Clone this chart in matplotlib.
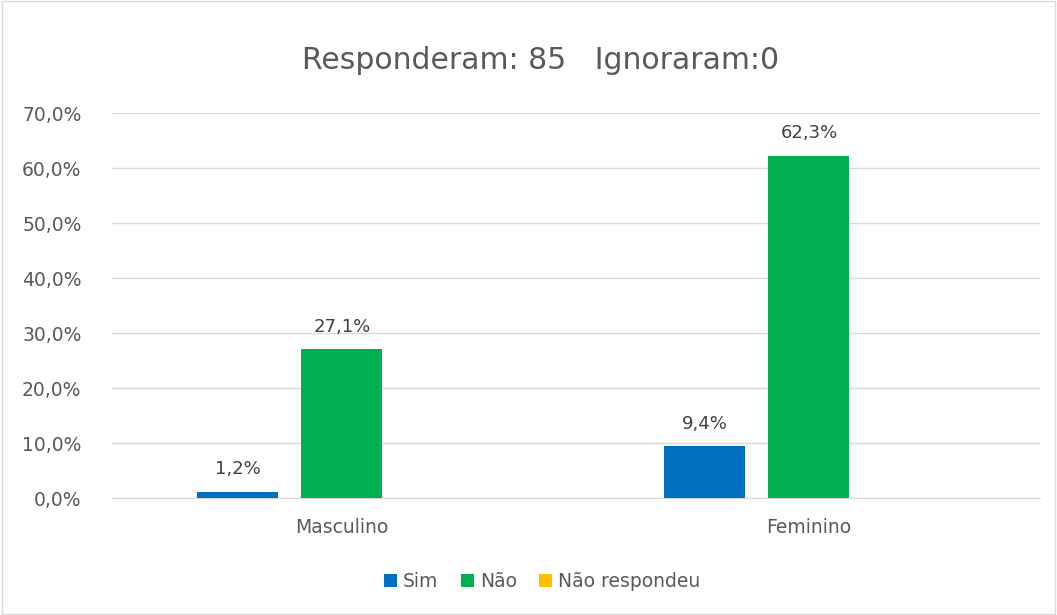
import numpy as np
import matplotlib.pyplot as plt
from matplotlib.patches import Rectangle

# dados do gráfico
categorias = ['Masculino', 'Feminino']
series = ['Sim', 'Não', 'Não respondeu']
sim = [1.2, 9.4]
nao = [27.1, 62.3]
nao_respondeu = [0.0, 0.0]
cores = ['#0070C0', '#00B050', '#FFC000']
titulo = 'Responderam: 85   Ignoraram:0'

texto = '#595959'

fig = plt.figure(figsize=(10.57, 6.15), dpi=100)
fig.patches.append(Rectangle((0.002, 0.002), 0.996, 0.996, transform=fig.transFigure,
                             fill=False, edgecolor='#d9d9d9', linewidth=1))
ax = fig.add_axes([0.106, 0.190, 0.878, 0.626])

x = np.arange(len(categorias))
largura = 0.173
passo = 0.223
valores = [sim, nao, nao_respondeu]
for i, (nome, vals, cor) in enumerate(zip(series, valores, cores)):
    barras = ax.bar(x + (i - 1) * passo, vals, width=largura, color=cor, label=nome, zorder=3)
    for b, v in zip(barras, vals):
        if v > 0:
            ax.text(b.get_x() + b.get_width() / 2, v + 2.4, f'{v:.1f}%'.replace('.', ','),
                    ha='center', va='bottom', fontsize=13, color='#404040')

ax.set_xlim(-0.492, 1.495)
ax.set_ylim(0, 70)
ax.set_yticks(np.arange(0, 71, 10))
ax.set_yticklabels([f'{v:.1f}%'.replace('.', ',') for v in np.arange(0, 71, 10)])
ax.set_xticks(x)
ax.set_xticklabels(categorias)
ax.tick_params(length=0, labelsize=13.5, labelcolor=texto)
ax.tick_params(axis='x', pad=14)
ax.tick_params(axis='y', pad=22)
ax.grid(axis='y', color='#d9d9d9', linewidth=1, zorder=0)
for s in ['top', 'right', 'left']:
    ax.spines[s].set_visible(False)
ax.spines['bottom'].set_color('#d9d9d9')

fig.text(0.511, 0.902, titulo, ha='center', va='center', fontsize=21.5, color=texto)

fig.legend(loc='center', bbox_to_anchor=(0.513, 0.054), ncol=3, frameon=False,
           fontsize=13.5, handlelength=0.7, handleheight=0.7, handletextpad=0.3,
           columnspacing=1.2, labelcolor=texto)

fig.savefig('out.png', dpi=100)
